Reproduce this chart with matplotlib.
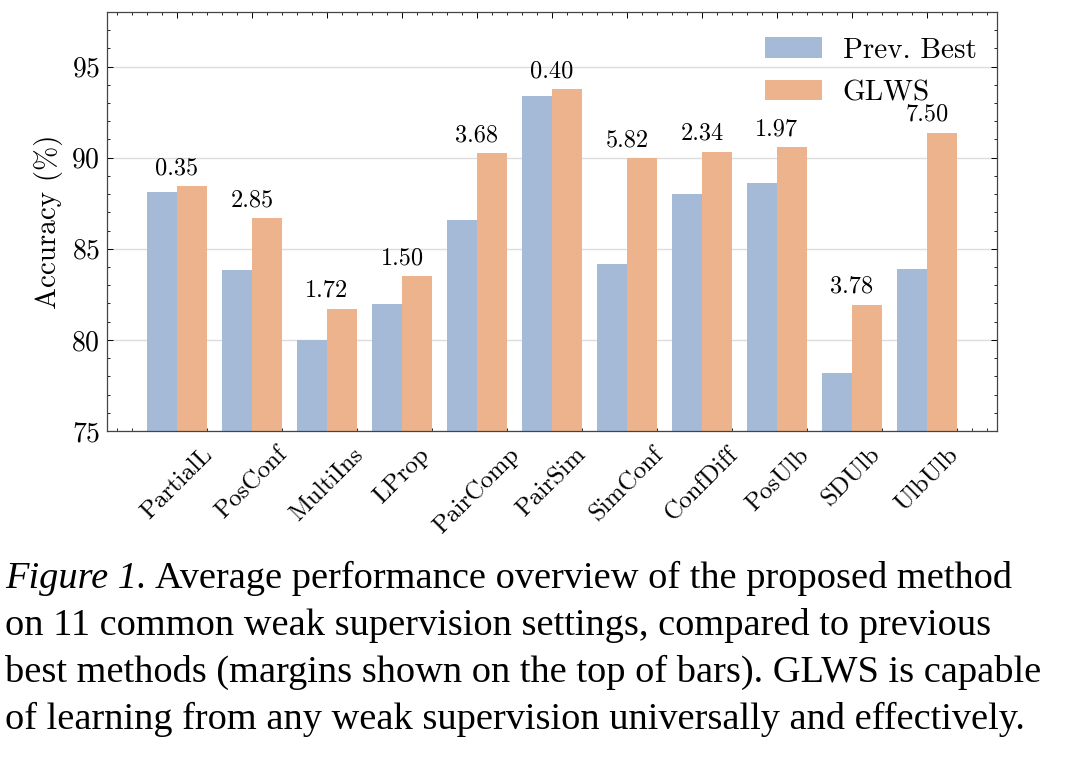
import matplotlib
matplotlib.use('Agg')
import matplotlib.pyplot as plt
from matplotlib.ticker import MultipleLocator
import numpy as np

# ------------------------------------
#   data
# ------------------------------------
settings = ['PartialL', 'PosConf', 'MultiIns', 'LProp', 'PairComp', 'PairSim',
            'SimConf', 'ConfDiff', 'PosUlb', 'SDUlb', 'UlbUlb']
prev_best = [88.10, 83.84, 80.00, 81.98, 86.56, 93.37, 84.15, 88.00, 88.60, 78.16, 83.88]
glws = [88.45, 86.69, 81.72, 83.48, 90.24, 93.77, 89.97, 90.34, 90.57, 81.94, 91.38]
margins = ['0.35', '2.85', '1.72', '1.50', '3.68', '0.40', '5.82', '2.34', '1.97', '3.78', '7.50']

caption = [
    'Average performance overview of the proposed method',
    'on 11 common weak supervision settings, compared to previous',
    'best methods (margins shown on the top of bars). GLWS is capable',
    'of learning from any weak supervision universally and effectively.',
]

blue = '#a4bad7'
orange = '#edb38c'

plt.rcParams['font.family'] = 'serif'
plt.rcParams['font.serif'] = ['cmr10']
plt.rcParams['axes.formatter.use_mathtext'] = True
plt.rcParams['mathtext.fontset'] = 'cm'

fig = plt.figure(figsize=(10.8, 7.62), dpi=100)
ax = fig.add_axes([0.0991, 0.4344, 0.8240, 0.5499])

x = np.arange(len(settings))
w = 0.4
ax.bar(x - w / 2, prev_best, w, color=blue, label='Prev. Best', zorder=2, linewidth=0)
ax.bar(x + w / 2, glws, w, color=orange, label='GLWS', zorder=2, linewidth=0)

for xi, g, m in zip(x, glws, margins):
    ax.annotate(m, (xi, g), xytext=(0, 5), textcoords='offset points',
                ha='center', va='bottom', fontsize=17.5)

ax.set_xlim(-0.933, 10.933)
ax.set_ylim(75, 98)
ax.set_xticks(x)
ax.set_xticklabels(settings, rotation=45, fontsize=18)
ax.xaxis.set_minor_locator(MultipleLocator(0.2))
ax.yaxis.set_major_locator(MultipleLocator(5))
ax.yaxis.set_minor_locator(MultipleLocator(1))
ax.tick_params(axis='both', which='both', direction='in', top=True, right=True)
ax.tick_params(axis='both', which='major', length=4.5, width=0.7)
ax.tick_params(axis='both', which='minor', length=2.3, width=0.6)
ax.tick_params(axis='y', labelsize=20, pad=5)
ax.tick_params(axis='x', pad=9)
ax.grid(axis='y', color='#dddddd', linewidth=1.0, zorder=0)
for s in ax.spines.values():
    s.set_linewidth(0.9)
    s.set_color('#444444')
ax.set_ylabel('Accuracy (%)', fontsize=21, labelpad=6)

ax.legend(loc='upper right', frameon=False, fontsize=21, handlelength=1.95,
          handleheight=0.7, handletextpad=0.7, labelspacing=0.55,
          borderaxespad=0.0, bbox_to_anchor=(0.99, 0.967))

'''caption below the chart'''
cap_font = 'Liberation Serif'
cap_size = 27.6
fig.canvas.draw()
r = fig.canvas.get_renderer()
y0 = 1 - 588 / 762
dy = 47 / 762
lab = fig.text(5 / 1080, y0, 'Figure 1.', fontsize=cap_size, family=cap_font,
               style='italic', va='baseline')
bb = lab.get_window_extent(renderer=r)
fig.text((bb.x1 + 8) / 1080, y0, caption[0], fontsize=cap_size, family=cap_font, va='baseline')
for i, line in enumerate(caption[1:], start=1):
    fig.text(5 / 1080, y0 - i * dy, line, fontsize=cap_size, family=cap_font, va='baseline')

fig.savefig('out.png', dpi=100)
